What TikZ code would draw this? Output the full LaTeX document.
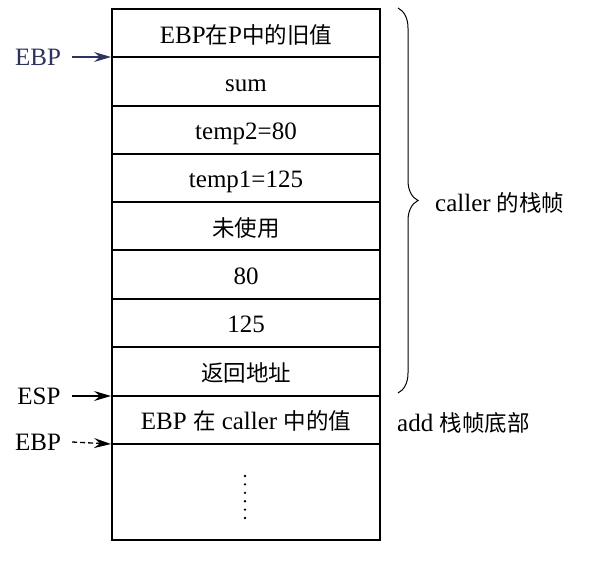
\documentclass[tikz,border=0pt]{standalone}
\usepackage{fontspec}
\setmainfont{Liberation Serif}
\newfontfamily\cjk{Noto Sans CJK SC}
\usetikzlibrary{decorations.pathreplacing,arrows.meta}
\newcommand{\zh}[1]{{\cjk\fontsize{22.5}{26}\selectfont #1}}
\definecolor{navy}{RGB}{45,50,95}
\begin{document}
\begin{tikzpicture}[x=1pt,y=1pt,
  cell/.style={font=\fontsize{25}{29}\selectfont, inner sep=0pt, anchor=base},
  lab/.style={font=\fontsize{25}{29}\selectfont, inner sep=0pt},
  ptr/.style={-{Stealth[length=17pt,width=10pt,inset=6pt]}, line width=1.3pt},
  boxline/.style={line width=1.7pt}]
\useasboundingbox (0,0) rectangle (592,-562);
% frame
\draw[boxline] (112,-9) rectangle (380,-540);
\foreach \y in {57,106,154,202,250,299,347,396,444}
  \draw[boxline] (112,-\y) -- (380,-\y);
% cells (baseline positions)
\node[cell] (c1) at (246,-43) {EBP\zh{在}P\zh{中的旧值}};
\node[cell] (c2) at (246,-91) {sum};
\node[cell] (c3) at (246,-139.5) {temp2=80};
\node[cell] (c4) at (246,-187.5) {temp1=125};
\node[cell] (c5) at (246,-236) {\zh{未使用}};
\node[cell] (c6) at (246,-284) {80};
\node[cell] (c7) at (246,-332.5) {125};
\node[cell] (c8) at (246,-381) {\zh{返回地址}};
\node[cell] (c9) at (246,-429.5) {EBP \zh{在} caller \zh{中的值}};
% dots
\foreach \i in {0,...,5}
  \fill (245,-476-8.4*\i) circle (1.3);
% pointers
\coordinate (p1) at (111,-57);
\coordinate (p2) at (111,-396);
\coordinate (p3) at (111,-444);
\node[lab, text=navy] (ebp1) at (38,-57) {EBP};
\node[lab] (esp) at (39,-396) {ESP};
\node[lab] (ebp2) at (38,-442) {EBP};
\draw[ptr, navy] ([xshift=11pt]ebp1.east) -- (p1);
\draw[ptr] ([xshift=11pt]esp.east) -- (p2);
\draw[ptr, dash pattern=on 5pt off 3pt] ([xshift=11pt]ebp2.east) -- (p3);
% brace
\coordinate (b1) at (398,-8);
\coordinate (b2) at (398,-393);
\draw[line width=1pt, decorate, decoration={brace, amplitude=20pt}] (b1) -- (b2);
\node[lab, anchor=west] (callerlab) at (435,-203) {caller \zh{的栈帧}};
\node[lab, anchor=west] (addlab) at (397,-423) {add \zh{栈帧底部}};
\end{tikzpicture}
\end{document}
